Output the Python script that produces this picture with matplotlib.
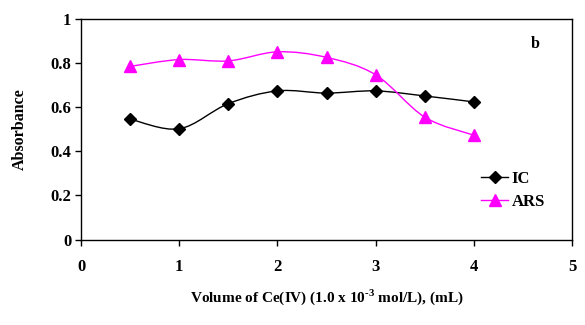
import numpy as np
import matplotlib.pyplot as plt
from matplotlib.path import Path
from matplotlib.patches import PathPatch
from matplotlib.lines import Line2D

plt.rcParams['font.family'] = ['Liberation Serif', 'DejaVu Serif']
plt.rcParams['font.weight'] = 'bold'
plt.rcParams['mathtext.fontset'] = 'custom'
plt.rcParams['mathtext.rm'] = 'Liberation Serif:bold'

volume = [0.5, 1.0, 1.5, 2.0, 2.5, 3.0, 3.5, 4.0]
ic_abs = [0.546, 0.502, 0.616, 0.674, 0.664, 0.674, 0.651, 0.624]
ars_abs = [0.785, 0.816, 0.810, 0.851, 0.826, 0.747, 0.555, 0.473]


def smooth_path(x, y):
    # Excel-like smoothed line: Catmull-Rom segments as cubic beziers
    x = np.asarray(x, float)
    y = np.asarray(y, float)
    verts = [(x[0], y[0])]
    codes = [Path.MOVETO]
    n = len(x)
    for i in range(n - 1):
        i0 = max(i - 1, 0)
        i3 = min(i + 2, n - 1)
        c1 = (x[i] + (x[i + 1] - x[i0]) / 6, y[i] + (y[i + 1] - y[i0]) / 6)
        c2 = (x[i + 1] - (x[i3] - x[i]) / 6, y[i + 1] - (y[i3] - y[i]) / 6)
        verts += [c1, c2, (x[i + 1], y[i + 1])]
        codes += [Path.CURVE4] * 3
    return Path(verts, codes)


fig = plt.figure(figsize=(5.85, 3.25), dpi=100)
ax = fig.add_axes([81 / 585, 1 - 239.5 / 325, 491 / 585, 220.5 / 325])

ax.add_patch(PathPatch(smooth_path(volume, ic_abs), fill=False,
                       edgecolor='black', lw=1.0))
ax.add_patch(PathPatch(smooth_path(volume, ars_abs), fill=False,
                       edgecolor='#ff00ff', lw=1.0))
ax.plot(volume, ic_abs, ls='none', marker='D', ms=6.5, color='black')
ax.plot(volume, ars_abs, ls='none', marker='^', ms=9, color='#ff00ff')

ax.set_xlim(0, 5)
ax.set_ylim(0, 1)
ax.set_xticks(range(6))
ax.set_yticks([0, 0.2, 0.4, 0.6, 0.8, 1])
ax.set_yticklabels(['0', '0.2', '0.4', '0.6', '0.8', '1'])
ax.tick_params(direction='out', length=4, width=1, labelsize=12, pad=3)
ax.tick_params(axis='x', pad=10)
for s in ax.spines.values():
    s.set_linewidth(1)

ax.set_ylabel('Absorbance', fontsize=11.5, fontweight='bold', labelpad=16)
ax.set_xlabel(r'Volume of Ce(IV) (1.0 x 10$^{\text{-3}}$ mol/L), (mL)',
              fontsize=11, fontweight='bold', labelpad=9)

ax.text(4.58, 0.87, 'b', fontsize=11.5, fontweight='bold')

handles = [Line2D([], [], color='black', marker='D', ms=6.5, lw=1),
           Line2D([], [], color='#ff00ff', marker='^', ms=9, lw=1)]
ax.legend(handles, ['IC', 'ARS'], loc='upper left', bbox_to_anchor=(0.785, 0.38),
          frameon=False, fontsize=12, handlelength=1.6, handletextpad=0.2,
          labelspacing=0.45)

fig.savefig('out.png', dpi=100)
